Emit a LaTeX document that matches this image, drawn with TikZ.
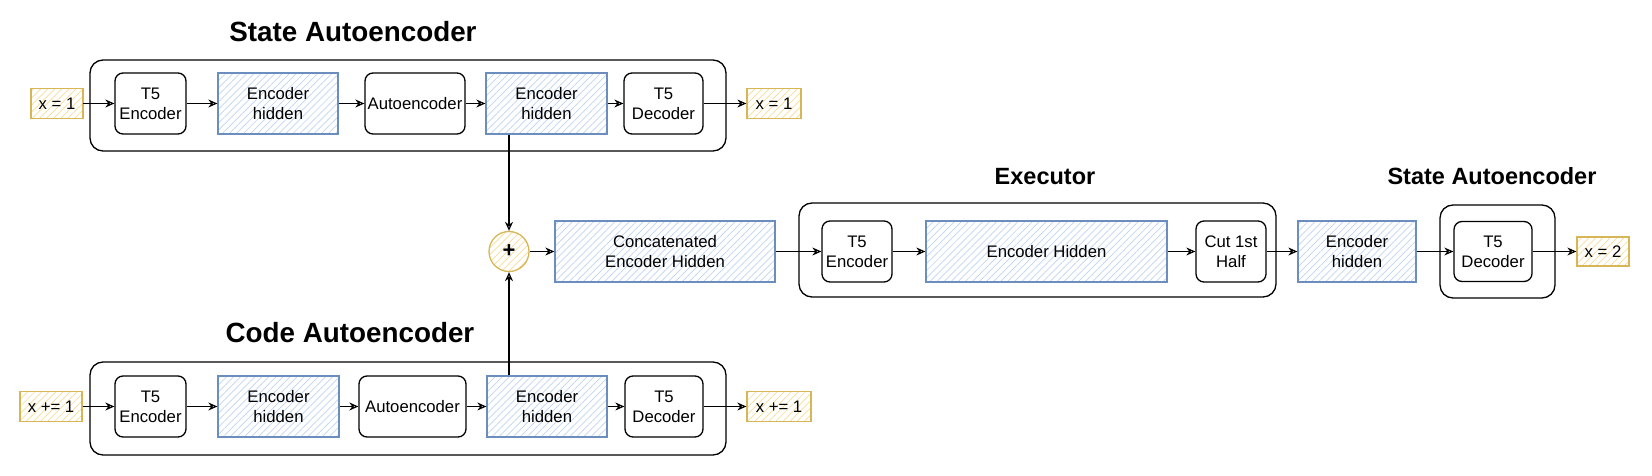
\documentclass[tikz,border=0pt]{standalone}
\usepackage{fontspec}
\setmainfont{Liberation Sans}
\usetikzlibrary{arrows.meta,patterns.meta}
\definecolor{ystroke}{HTML}{D6B656}
\definecolor{yfill}{HTML}{F5DC96}
\definecolor{bstroke}{HTML}{6C8EBF}
\definecolor{bfill}{HTML}{BFD4F2}
\tikzset{
  lbl/.style={font=\fontsize{16.7}{20}\selectfont, align=center, inner sep=0pt},
  blk/.style={lbl, draw=black, line width=1.3pt, rounded corners=8pt, minimum height=61pt},
  hid/.style={lbl, draw=bstroke, line width=1.3pt, minimum height=61pt,
    pattern={Lines[angle=45,distance=5pt,line width=0.7pt]}, pattern color=bfill},
  io/.style={lbl, draw=ystroke, line width=1.3pt, minimum height=30pt,
    pattern={Lines[angle=45,distance=5pt,line width=0.7pt]}, pattern color=yfill},
  grp/.style={draw=black, line width=1.3pt, rounded corners=13pt, inner sep=0pt},
  ttlbig/.style={font=\bfseries\fontsize{27.8}{30}\selectfont, anchor=base, inner sep=0pt},
  ttlsm/.style={font=\bfseries\fontsize{23.5}{26}\selectfont, anchor=base, inner sep=0pt},
  arr/.style={-{Stealth[open,length=9pt,width=8pt]}, line width=1.2pt},
}
\begin{document}
\begin{tikzpicture}[x=1pt,y=-1pt]
\useasboundingbox (0,0) rectangle (1652,476);

% ---------- titles
\node[ttlbig] (ttlA) at (353,42) {State Autoencoder};
\node[ttlbig] (ttlB) at (350,342) {Code Autoencoder};
\node[ttlsm] (ttlC) at (1045,185) {Executor};
\node[ttlsm] (ttlD) at (1492,184) {State Autoencoder};

% ---------- containers
\node[grp, minimum width=636pt, minimum height=91pt] (gA) at (408,105.5) {};
\node[grp, minimum width=636pt, minimum height=93pt] (gB) at (408,408.5) {};
\node[grp, minimum width=477pt, minimum height=94pt] (gC) at (1037.5,250) {};
\node[grp, minimum width=115pt, minimum height=93pt] (gD) at (1497.5,251.5) {};

% ---------- top row
\node[io, minimum width=52pt] (in1) at (57,103.5) {x = 1};
\node[blk, minimum width=71pt] (t5e1) at (150.5,103.5) {T5\\Encoder};
\node[hid, minimum width=120pt] (eh1) at (278,103.5) {Encoder\\hidden};
\node[blk, minimum width=100pt] (ae1) at (415,103.5) {Autoencoder};
\node[hid, minimum width=121pt] (eh2) at (546.5,103.5) {Encoder\\hidden};
\node[blk, minimum width=79pt] (t5d1) at (663.5,103.5) {T5\\Decoder};
\node[io, minimum width=54pt] (out1) at (774,103.5) {x = 1};

% ---------- bottom row
\node[io, minimum width=62pt] (in2) at (51,406.5) {x += 1};
\node[blk, minimum width=71pt] (t5e2) at (150.5,406.5) {T5\\Encoder};
\node[hid, minimum width=121pt] (eh3) at (278.5,406.5) {Encoder\\hidden};
\node[blk, minimum width=107pt] (ae2) at (412.5,406.5) {Autoencoder};
\node[hid, minimum width=120pt] (eh4) at (547,406.5) {Encoder\\hidden};
\node[blk, minimum width=78pt] (t5d2) at (664,406.5) {T5\\Decoder};
\node[io, minimum width=64pt] (out2) at (779,406.5) {x += 1};

% ---------- middle row
\node[circle, draw=ystroke, line width=1.3pt, minimum size=40pt, inner sep=0pt,
  pattern={Lines[angle=45,distance=5pt,line width=0.7pt]}, pattern color=yfill,
  font=\bfseries\fontsize{22}{22}\selectfont] (plus) at (509,251.5) {+};
\node[hid, minimum width=220pt] (cat) at (665,251.5) {Concatenated\\Encoder Hidden};
\node[blk, minimum width=70pt] (t5e3) at (857,251.5) {T5\\Encoder};
\node[hid, minimum width=241pt] (eh5) at (1046.5,251.5) {Encoder Hidden};
\node[blk, minimum width=70pt] (cut) at (1231,251.5) {Cut 1st\\Half};
\node[hid, minimum width=118pt] (eh6) at (1357,251.5) {Encoder\\hidden};
\node[blk, minimum width=78pt, minimum height=60pt] (t5d3) at (1493,251.5) {T5\\Decoder};
\node[io, minimum width=52pt, minimum height=29pt] (out3) at (1603,251.5) {x = 2};

% ---------- connectors
\draw[arr] (in1) -- (t5e1);
\draw[arr] (t5e1) -- (eh1);
\draw[arr] (eh1) -- (ae1);
\draw[arr] (ae1) -- (eh2);
\draw[arr] (eh2) -- (t5d1);
\draw[arr] (t5d1) -- (out1);

\draw[arr] (in2) -- (t5e2);
\draw[arr] (t5e2) -- (eh3);
\draw[arr] (eh3) -- (ae2);
\draw[arr] (ae2) -- (eh4);
\draw[arr] (eh4) -- (t5d2);
\draw[arr] (t5d2) -- (out2);

\draw[arr] (plus |- eh2.south) -- (plus.north);
\draw[arr] (plus |- eh4.north) -- (plus.south);

\draw[arr] (plus) -- (cat);
\draw[arr] (cat) -- (t5e3);
\draw[arr] (t5e3) -- (eh5);
\draw[arr] (eh5) -- (cut);
\draw[arr] (cut) -- (eh6);
\draw[arr] (eh6) -- (t5d3);
\draw[arr] (t5d3) -- (out3);
\end{tikzpicture}
\end{document}
